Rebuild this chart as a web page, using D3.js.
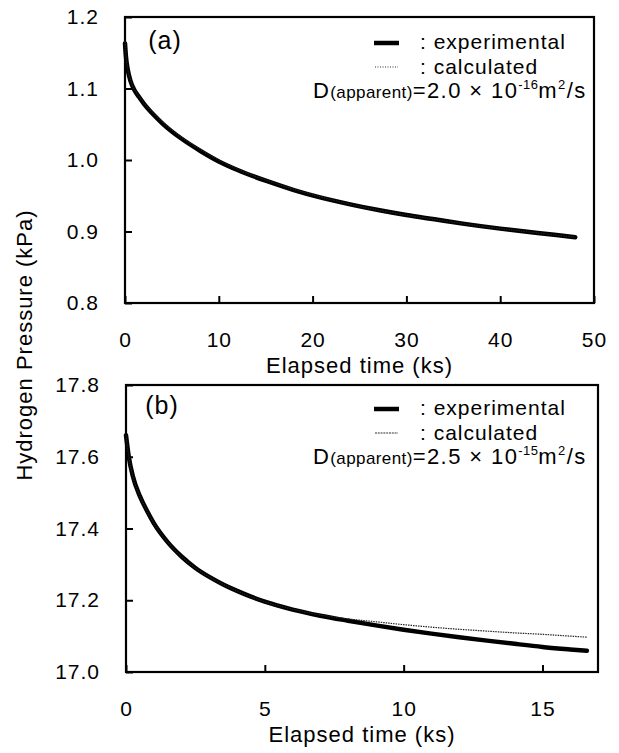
<!DOCTYPE html>
<html>
<head>
<meta charset="utf-8">
<script src="https://cdn.jsdelivr.net/npm/d3@7"></script>
<style>
  body { margin: 0; background: #fff; }
  svg { display: block; }
  text { font-family: "Liberation Sans", Arial, sans-serif; fill: #000; letter-spacing: 1px; }
</style>
</head>
<body>
<div id="chart"></div>
<script>
// panel (a)
var timeA = [0, 0.1, 0.3, 0.6, 1, 1.5, 2, 3, 4, 6, 8, 10, 12, 15, 18, 21, 24, 27, 30, 33, 36, 40, 44, 48];
var expA  = [1.163, 1.145, 1.126, 1.11, 1.098, 1.088, 1.079, 1.064, 1.051, 1.03, 1.013, 0.998, 0.986, 0.971, 0.958, 0.947, 0.938, 0.930, 0.923, 0.917, 0.911, 0.904, 0.898, 0.892];
var calcA = [1.166, 1.147, 1.127, 1.111, 1.099, 1.089, 1.080, 1.066, 1.053, 1.032, 1.015, 1.000, 0.987, 0.972, 0.959, 0.948, 0.938, 0.930, 0.923, 0.917, 0.911, 0.904, 0.898, 0.892];
var xTicksA = [0, 10, 20, 30, 40, 50];
var yTicksA = [0.8, 0.9, 1.0, 1.1, 1.2];

// panel (b)
var timeB = [0, 0.1, 0.25, 0.5, 0.75, 1, 1.5, 2, 2.5, 3, 3.5, 4, 4.5, 5, 6, 7, 8, 9, 10, 11, 12, 13, 14, 15, 16, 16.6];
var expB  = [17.66, 17.6, 17.545, 17.49, 17.45, 17.415, 17.362, 17.322, 17.29, 17.265, 17.244, 17.226, 17.21, 17.196, 17.174, 17.157, 17.143, 17.13, 17.118, 17.107, 17.097, 17.0875, 17.0785, 17.07, 17.063, 17.059];
var calcB = [17.66, 17.6, 17.545, 17.49, 17.45, 17.415, 17.362, 17.322, 17.29, 17.265, 17.244, 17.226, 17.21, 17.196, 17.175, 17.159, 17.148, 17.14, 17.132, 17.125, 17.119, 17.114, 17.109, 17.105, 17.1, 17.097];
var xTicksB = [0, 5, 10, 15];
var yTicksB = [17.0, 17.2, 17.4, 17.6, 17.8];

var svg = d3.select("#chart").append("svg")
    .attr("width", 619)
    .attr("height", 753);

function panel(opt) {
  var x = d3.scaleLinear().domain(opt.xDomain).range([opt.left, opt.right]);
  var y = d3.scaleLinear().domain(opt.yDomain).range([opt.bottom, opt.top]);
  var g = svg.append("g");

  var xAxis = d3.axisBottom(x).tickValues(opt.xTicks).tickFormat(d3.format("d"))
      .tickSizeInner(-7).tickSizeOuter(0).tickPadding(29);
  var yAxis = d3.axisLeft(y).tickValues(opt.yTicks).tickFormat(d3.format(".1f"))
      .tickSizeInner(-7).tickSizeOuter(0).tickPadding(26);

  var gx = g.append("g").attr("transform", "translate(0," + opt.bottom + ")").call(xAxis);
  var gy = g.append("g").attr("transform", "translate(" + opt.left + ",0)").call(yAxis);
  [gx, gy].forEach(function(a) {
    a.select(".domain").remove();
    a.selectAll("line").attr("stroke", "#000").attr("stroke-width", 2);
    a.selectAll("text").attr("font-size", 21).attr("fill", "#000")
      .style("font-family", '"Liberation Sans", Arial, sans-serif');
  });

  // frame
  g.append("rect")
    .attr("x", opt.left).attr("y", opt.top)
    .attr("width", opt.right - opt.left).attr("height", opt.bottom - opt.top)
    .attr("fill", "none").attr("stroke", "#000").attr("stroke-width", 2.2);

  var line = d3.line().curve(d3.curveMonotoneX);
  var expPts = opt.time.map(function(t, i) { return [x(t), y(opt.exp[i])]; });
  var calcPts = opt.time.map(function(t, i) { return [x(t), y(opt.calc[i])]; });

  g.append("path").attr("d", line(expPts))
    .attr("fill", "none").attr("stroke", "#000").attr("stroke-width", 4.5)
    .attr("stroke-linecap", "round");
  g.append("path").attr("d", line(calcPts))
    .attr("fill", "none").attr("stroke", "#222").attr("stroke-width", 1.2)
    .attr("stroke-dasharray", "1.5,1");

  // x title
  g.append("text")
    .attr("x", (opt.left + opt.right) / 2).attr("y", opt.bottom + 70)
    .attr("text-anchor", "middle").attr("font-size", 22)
    .text("Elapsed time (ks)");

  // panel tag
  g.append("text").attr("x", opt.tagX).attr("y", opt.tagY)
    .attr("text-anchor", "middle").attr("font-size", 25)
    .text(opt.tag);

  // legend
  var ly = opt.legendY;
  g.append("line").attr("x1", 374).attr("x2", 399).attr("y1", ly).attr("y2", ly)
    .attr("stroke", "#000").attr("stroke-width", 4.5);
  g.append("text").attr("x", 420).attr("y", ly + 6).attr("font-size", 21).text(": experimental");
  g.append("line").attr("x1", 375).attr("x2", 398).attr("y1", ly + 24).attr("y2", ly + 24)
    .attr("stroke", "#333").attr("stroke-width", 1.2).attr("stroke-dasharray", opt.legendDash);
  g.append("text").attr("x", 420).attr("y", ly + 31).attr("font-size", 21).text(": calculated");

  var d = g.append("text").attr("x", 313).attr("y", ly + 55).attr("font-size", 22)
    .style("letter-spacing", "1.4px");
  d.append("tspan").text("D");
  d.append("tspan").attr("font-size", 17).style("letter-spacing", "0.4px").text("(apparent)");
  d.append("tspan").text("=" + opt.dValue + " \u00d7 10");
  d.append("tspan").attr("font-size", 13).style("letter-spacing", "0.4px").attr("dy", -9).text(opt.dExp);
  d.append("tspan").attr("dy", 9).text("m");
  d.append("tspan").attr("font-size", 13).attr("dy", -9).text("2");
  d.append("tspan").attr("dy", 9).text("/s");
}

panel({
  left: 125, right: 594, top: 17, bottom: 303,
  xDomain: [0, 50], yDomain: [0.8, 1.2],
  xTicks: xTicksA, yTicks: yTicksA,
  time: timeA, exp: expA, calc: calcA,
  tag: "(a)", tagX: 165, tagY: 49,
  legendY: 43, legendDash: "1,1.5",
  dValue: "2.0", dExp: "-16"
});

panel({
  left: 126, right: 598, top: 385, bottom: 672,
  xDomain: [0, 17], yDomain: [17.0, 17.8],
  xTicks: xTicksB, yTicks: yTicksB,
  time: timeB, exp: expB, calc: calcB,
  tag: "(b)", tagX: 162, tagY: 414,
  legendY: 409, legendDash: "2,0.8",
  dValue: "2.5", dExp: "-15"
});

// shared y title
svg.append("text")
  .attr("transform", "translate(32,345) rotate(-90)")
  .attr("text-anchor", "middle").attr("font-size", 22)
  .text("Hydrogen Pressure (kPa)");
</script>
</body>
</html>
